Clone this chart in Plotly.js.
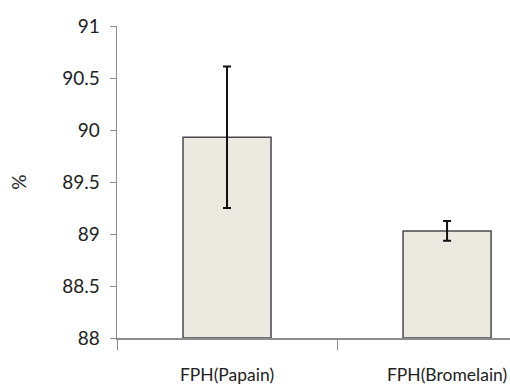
<!DOCTYPE html>
<html>
<head>
<meta charset="utf-8">
<script src="https://cdn.plot.ly/plotly-3.0.1.min.js"></script>
<style>html,body{margin:0;padding:0;background:#fff;}#chart{width:510px;height:392px;}</style>
</head>
<body>
<div id="chart"></div>
<script>
const categories = ["FPH(Papain)", "FPH(Bromelain)"];
const values = [89.93, 89.03];
const errors = [0.68, 0.095];
const yTicks = [88, 88.5, 89, 89.5, 90, 90.5, 91];
const yTickText = ["88", "88.5", "89", "89.5", "90", "90.5", "91"];
const baseValue = 88;

const font = "Lato, 'Open Sans', sans-serif";

const trace = {
  type: "bar",
  x: categories,
  y: values.map(v => v - baseValue),
  base: baseValue,
  width: 0.4,
  marker: {color: "#ECEAE0", line: {color: "#4a4a4a", width: 1.5}},
  error_y: {type: "data", array: errors, visible: true, color: "#111", thickness: 2, width: 4},
  hoverinfo: "none"
};

const layout = {
  width: 510, height: 392,
  margin: {l: 117, r: 0, t: 26, b: 54},
  paper_bgcolor: "#fff", plot_bgcolor: "#fff",
  showlegend: false,
  font: {family: font, color: "#222", size: 17},
  xaxis: {
    type: "category",
    range: [-0.5, 1.286],
    showline: true, linecolor: "#8c8c8c", linewidth: 1.5,
    ticks: "outside", tickson: "boundaries", ticklen: 10, tickcolor: "#8c8c8c", tickwidth: 1,
    tickfont: {family: font, size: 17.5, color: "#222"},
    ticklabelstandoff: 20,
    showgrid: false, zeroline: false, fixedrange: true
  },
  yaxis: {
    range: [88, 91],
    tickvals: yTicks, ticktext: yTickText,
    showline: true, linecolor: "#8c8c8c", linewidth: 1.5,
    ticks: "outside", ticklen: 6, tickcolor: "#8c8c8c", tickwidth: 1,
    tickfont: {family: font, size: 19, color: "#222"},
    ticklabelstandoff: 6,
    showgrid: false, zeroline: false, fixedrange: true,
    title: {text: "%", font: {family: font, size: 19, color: "#222"}, standoff: 30}
  }
};

Plotly.newPlot("chart", [trace], layout, {displayModeBar: false, staticPlot: true});
</script>
</body>
</html>
